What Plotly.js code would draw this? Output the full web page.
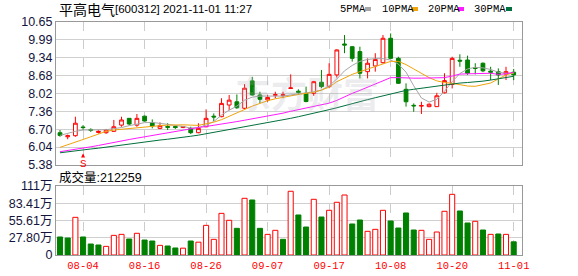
<!DOCTYPE html>
<html><head><meta charset="utf-8">
<script src="https://cdn.plot.ly/plotly-3.0.1.min.js"></script>
<style>html,body{margin:0;padding:0;background:#fff}#c{width:578px;height:276px}</style>
</head><body><div id="c"></div>
<script>
const dates = ['2021-07-30','2021-08-02','2021-08-03','2021-08-04','2021-08-05','2021-08-06','2021-08-09','2021-08-10','2021-08-11','2021-08-12','2021-08-13','2021-08-16','2021-08-17','2021-08-18','2021-08-19','2021-08-20','2021-08-23','2021-08-24','2021-08-25','2021-08-26','2021-08-27','2021-08-30','2021-08-31','2021-09-01','2021-09-02','2021-09-03','2021-09-06','2021-09-07','2021-09-08','2021-09-09','2021-09-10','2021-09-13','2021-09-14','2021-09-15','2021-09-16','2021-09-17','2021-09-22','2021-09-23','2021-09-24','2021-09-27','2021-09-28','2021-09-29','2021-09-30','2021-10-08','2021-10-11','2021-10-12','2021-10-13','2021-10-14','2021-10-15','2021-10-18','2021-10-19','2021-10-20','2021-10-21','2021-10-22','2021-10-25','2021-10-26','2021-10-27','2021-10-28','2021-10-29','2021-11-01'];
const openP  = [6.57,6.42,6.46,6.78,6.69,6.58,6.57,6.62,6.85,7.10,6.85,7.18,6.94,6.73,6.80,6.80,6.76,6.73,6.57,6.79,7.18,7.16,7.59,7.71,7.47,8.48,7.96,7.78,7.95,7.94,8.20,8.10,8.02,8.02,8.43,8.27,8.70,9.84,9.74,9.56,8.82,9.03,9.15,10.05,9.31,8.17,7.58,7.55,7.53,7.53,8.04,8.35,9.24,9.25,8.96,9.13,8.84,8.82,8.73,8.80];
const highP  = [6.67,6.50,7.16,6.85,6.73,6.66,6.71,7.04,7.16,7.10,7.26,7.20,7.06,6.95,6.92,6.83,6.82,6.79,6.92,7.43,7.28,7.84,7.96,7.98,8.36,8.63,8.08,7.96,8.08,8.08,8.72,8.17,8.27,8.48,8.88,9.13,9.64,10.17,9.76,9.74,9.31,9.50,10.17,10.23,9.37,8.39,7.65,7.71,7.65,8.04,8.76,9.37,9.46,9.41,9.13,9.16,9.00,8.94,9.00,8.92];
const lowP   = [6.42,6.33,6.42,6.67,6.60,6.54,6.53,6.62,6.79,6.84,6.79,6.98,6.73,6.70,6.67,6.71,6.74,6.52,6.55,6.77,7.00,7.14,7.40,7.45,7.43,7.94,7.65,7.71,7.84,7.84,8.20,7.96,7.69,7.93,8.21,8.21,8.60,9.50,9.19,8.57,8.57,8.82,9.12,9.31,8.37,7.53,7.34,7.26,7.51,7.52,8.02,8.20,9.00,8.70,8.72,8.80,8.51,8.33,8.51,8.51];
const closeP = [6.47,6.46,6.92,6.76,6.66,6.62,6.67,6.79,7.04,6.89,7.10,7.00,6.82,6.83,6.77,6.76,6.80,6.57,6.73,7.10,7.15,7.65,7.77,7.49,8.21,7.96,7.80,7.87,7.97,7.97,8.22,8.06,7.72,8.45,8.27,8.72,9.62,9.80,9.31,8.76,9.13,9.27,10.05,9.31,8.39,7.71,7.56,7.57,7.62,7.93,8.49,9.31,9.21,8.76,8.94,8.85,8.80,8.70,8.82,8.70];
const ma5  = [6.47,6.55,6.62,6.67,6.67,6.67,6.68,6.72,6.76,6.83,6.88,6.94,6.95,6.92,6.88,6.84,6.80,6.74,6.76,6.85,6.98,7.22,7.40,7.55,7.77,7.88,7.92,7.92,7.90,7.92,7.96,8.00,8.02,8.08,8.14,8.30,8.55,8.85,9.05,9.20,9.27,9.30,9.30,9.25,9.10,8.80,8.30,7.85,7.70,7.80,8.10,8.45,8.75,8.92,8.98,8.96,8.90,8.80,8.76,8.76];
const ma10 = [6.03,6.12,6.22,6.32,6.42,6.52,6.62,6.67,6.70,6.73,6.75,6.77,6.80,6.83,6.85,6.86,6.86,6.85,6.84,6.90,6.96,7.05,7.18,7.30,7.42,7.55,7.65,7.75,7.82,7.88,7.93,7.98,8.02,8.06,8.14,8.25,8.45,8.60,8.72,8.82,8.92,9.02,9.12,9.20,9.20,9.08,8.92,8.75,8.60,8.48,8.42,8.39,8.34,8.29,8.28,8.33,8.40,8.55,8.70,8.78];
const ma20 = [5.87,5.91,5.95,5.99,6.05,6.10,6.16,6.21,6.27,6.32,6.37,6.42,6.47,6.52,6.57,6.63,6.68,6.73,6.76,6.80,6.84,6.88,6.93,6.98,7.03,7.08,7.13,7.18,7.23,7.29,7.36,7.42,7.48,7.54,7.60,7.66,7.76,7.90,8.02,8.13,8.25,8.38,8.50,8.60,8.60,8.58,8.58,8.58,8.58,8.58,8.60,8.66,8.73,8.74,8.75,8.76,8.76,8.72,8.74,8.80];
const ma30 = [5.83,5.87,5.90,5.94,5.97,6.00,6.04,6.08,6.12,6.16,6.20,6.24,6.27,6.30,6.33,6.36,6.40,6.44,6.48,6.53,6.58,6.63,6.68,6.73,6.79,6.84,6.89,6.94,6.99,7.04,7.10,7.16,7.22,7.29,7.35,7.42,7.49,7.57,7.64,7.72,7.79,7.86,7.93,8.00,8.08,8.13,8.17,8.21,8.25,8.28,8.32,8.36,8.40,8.42,8.44,8.47,8.51,8.55,8.59,8.65];
const volume = [29.0,27.3,60.6,29.0,17.7,16.1,13.9,31.6,33.2,25.7,34.9,24.1,22.5,15.5,14.5,11.3,11.0,22.5,20.6,47.7,25.2,67.0,55.8,42.9,91.2,88.5,42.9,33.2,39.7,25.2,102.5,64.4,45.0,89.6,61.1,71.9,84.8,96.5,49.9,56.3,38.1,41.3,71.9,54.7,43.4,67.6,40.2,39.7,25.2,37.0,70.3,97.6,70.8,51.5,54.2,40.2,33.2,33.8,33.2,21.23];
const volDir = ['G','G','R','G','G','G','R','R','R','G','R','G','G','R','G','G','R','G','R','R','R','R','R','G','R','G','G','R','R','G','R','G','G','R','G','R','R','R','G','G','R','R','R','G','G','G','G','R','R','R','R','R','G','G','R','G','R','G','R','G'];
const tickDates = ['2021-08-04','2021-08-16','2021-08-26','2021-09-07','2021-09-17','2021-10-08','2021-10-20','2021-11-01'];
const tickText  = ['08-04','08-16','08-26','09-07','09-17','10-08','10-20','11-01'];
const priceTicks = [5.38,6.04,6.70,7.36,8.02,8.68,9.34,9.99,10.65];
const priceTickText = ['5.38','6.04','6.70','7.36','8.02','8.68','9.34','9.99','10.65'];
const volTicks = [0,27.80,55.61,83.41,111];
const volTickText = ['0','27.80万','55.61万','83.41万','111万'];
const maNames = ['5PMA','10PMA','20PMA','30PMA'];
const maColors = ['#a6a6a6','#f0a30a','#ff1aff','#00703c'];

const RED='#ff0000', GREEN='#008000';
const L=56, R=522, T=22, B=255;
const X = px => (px-L)/(R-L);
const Y = py => (B-py)/(B-T);

const traces = [];
traces.push({
  type:'bar', x:dates, y:volume, xaxis:'x', yaxis:'y', width:0.66,
  marker:{color: volDir.map(d=>d==='R'?'#ffffff':GREEN), line:{color: volDir.map(d=>d==='R'?RED:GREEN), width:1}},
  hoverinfo:'skip'
});
traces.push({
  type:'candlestick', x:dates, open:openP, high:highP, low:lowP, close:closeP, xaxis:'x2', yaxis:'y2',
  increasing:{line:{color:RED,width:1}, fillcolor:'#ffffff'},
  decreasing:{line:{color:GREEN,width:1}, fillcolor:GREEN},
  whiskerwidth:0, hoverinfo:'skip'
});
[ma5,ma10,ma20,ma30].forEach((m,i)=>{
  traces.push({type:'scatter', mode:'lines', x:dates, y:m, xaxis:'x2', yaxis:'y2',
    line:{color:maColors[i], width:1}, hoverinfo:'skip', name:maNames[i]});
});

const gridX = {type:'category', range:[-0.52,60.08], tickvals:tickDates, ticktext:tickText,
  showgrid:true, gridcolor:'#cccccc', griddash:'dash', gridwidth:1, ticks:'',
  showline:true, mirror:true, linecolor:'#999999', linewidth:1, zeroline:false, fixedrange:true};

const monoF = 'Liberation Mono, DejaVu Sans Mono, monospace';
const sansF = 'Liberation Sans, Noto Sans CJK SC, sans-serif';
const annotations = [
  {xref:'paper', yref:'paper', x:X(57), y:Y(8.5), xanchor:'left', yanchor:'middle', showarrow:false,
   text:'平高电气', font:{family:'Noto Sans CJK SC', size:14, color:'#000'}},
  {xref:'paper', yref:'paper', x:X(113), y:Y(8.5), xanchor:'left', yanchor:'middle', showarrow:false,
   text:'[600312] 2021-11-01 11:27', font:{family:sansF, size:11.5, color:'#000'}},
  {xref:'paper', yref:'paper', x:X(57), y:Y(177.5), xanchor:'left', yanchor:'middle', showarrow:false,
   text:'成交量:212259', font:{family:sansF, size:12.5, color:'#000'}},
  {xref:'paper', yref:'paper', x:X(307), y:Y(92), xanchor:'center', yanchor:'middle', showarrow:false,
   text:'<b>东方财富</b>', font:{family:'Noto Sans CJK SC', size:36, color:'rgba(170,170,185,0.22)'}},
  {xref:'x2', yref:'y2', x:'2021-08-04', y:5.80, text:'S', showarrow:true, ax:0, ay:10,
   arrowhead:2, arrowsize:0.8, arrowwidth:1, arrowcolor:RED, font:{family:monoF, size:11, color:RED}}
];
const legX = [338,380,426,472];
const sqX = [365,412,458,506];
const shapes = [];
maNames.forEach((n,i)=>{
  annotations.push({xref:'paper', yref:'paper', x:X(legX[i]), y:Y(9), xanchor:'left', yanchor:'middle',
    showarrow:false, text:n, font:{family:monoF, size:10.5, color:'#000'}});
  shapes.push({type:'rect', xref:'paper', yref:'paper', x0:X(sqX[i]), x1:X(sqX[i]+6), y0:Y(11), y1:Y(7),
    fillcolor:maColors[i], line:{width:0}});
});

const layout = {
  width:578, height:276, margin:{l:L, r:578-R, t:T, b:276-B, pad:0},
  paper_bgcolor:'#ffffff', plot_bgcolor:'#ffffff', showlegend:false, dragmode:false,
  xaxis: Object.assign({}, gridX, {anchor:'y', tickfont:{family:monoF, size:10.5, color:RED}}),
  xaxis2: Object.assign({}, gridX, {anchor:'y2', showticklabels:false, rangeslider:{visible:false}}),
  yaxis: {domain:[0,(B-186)/(B-T)], range:[0,111], tickvals:volTicks, ticktext:volTickText,
    showgrid:true, gridcolor:'#d0d0d0', gridwidth:1, ticks:'', zeroline:false,
    showline:true, mirror:true, linecolor:'#999999', linewidth:1,
    tickfont:{family:sansF, size:12.5, color:'#14143c'}, fixedrange:true},
  yaxis2: {domain:[(B-165)/(B-T),1], range:[5.38,10.65], tickvals:priceTicks, ticktext:priceTickText,
    showgrid:true, gridcolor:'#d0d0d0', gridwidth:1, ticks:'', zeroline:false,
    showline:true, mirror:true, linecolor:'#999999', linewidth:1,
    tickfont:{family:sansF, size:12.5, color:'#14143c'}, fixedrange:true},
  annotations, shapes
};
Plotly.newPlot('c', traces, layout, {staticPlot:true, displayModeBar:false});
</script></body></html>
